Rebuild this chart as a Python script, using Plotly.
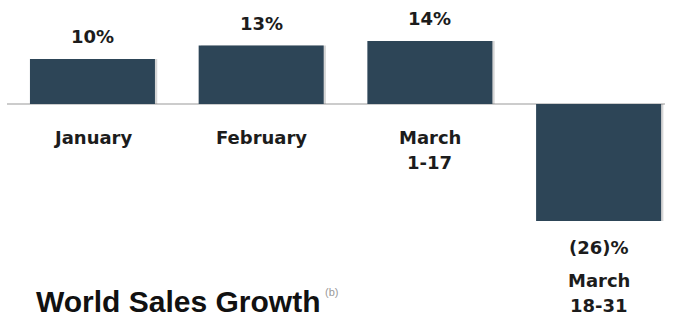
import plotly.graph_objects as go

# Monthly sales growth, percent
periods = ["January", "February", "March<br>1-17", "March<br>18-31"]
growth = [10, 13, 14, -26]
value_labels = ["10%", "13%", "14%", "(26)%"]
title_text = "World Sales Growth"
footnote_mark = "(b)"

BAR_COLOR = "#2d4557"
TEXT_COLOR = "#1c1c1c"
LABEL_FONT = dict(family="DejaVu Sans, sans-serif", size=18, color=TEXT_COLOR, weight=700)
LINE_STEP = 25  # px between the lines of a category label

x = list(range(len(periods)))

fig = go.Figure()

# soft drop shadow behind each bar
fig.add_trace(go.Bar(
    x=x, y=growth, width=0.741, offset=-0.357,
    marker=dict(color="rgba(120,120,120,0.30)", line=dict(width=0)),
    hoverinfo="skip", showlegend=False,
))
fig.add_trace(go.Bar(
    x=x, y=growth, width=0.741,
    marker=dict(color=BAR_COLOR, line=dict(width=0)),
    showlegend=False,
))

annotations = []
for i, (v, lab, cat) in enumerate(zip(growth, value_labels, periods)):
    lines = cat.split("<br>")
    if v >= 0:
        annotations.append(dict(x=i, y=v, text=lab, showarrow=False,
                                yanchor="bottom", yshift=10, font=LABEL_FONT))
        base_y, first_shift = 0, -21
    else:
        annotations.append(dict(x=i, y=v, text=lab, showarrow=False,
                                yanchor="top", yshift=-14, font=LABEL_FONT))
        base_y, first_shift = v, -47
    for k, line in enumerate(lines):
        annotations.append(dict(x=i, y=base_y, text=line, showarrow=False,
                                yanchor="top", yshift=first_shift - k * LINE_STEP,
                                font=LABEL_FONT))

annotations.append(dict(
    xref="paper", yref="paper", x=323 / 673, y=0, text=title_text,
    showarrow=False, xanchor="right", yanchor="bottom",
    font=dict(family="Liberation Sans, Arial, sans-serif", size=30, color="#111111", weight=700),
))
annotations.append(dict(
    xref="paper", yref="paper", x=323 / 673, y=1 - 292 / 320, text=footnote_mark,
    showarrow=False, xanchor="left", yanchor="middle",
    font=dict(family="Liberation Sans, Arial, sans-serif", size=11, color="#9a9a9a"),
))

# zero baseline
fig.add_shape(type="line", xref="paper", yref="y", x0=7 / 673, x1=665 / 673, y0=0, y1=0,
              line=dict(color="#9a9a9a", width=1.2), layer="below")

fig.update_layout(
    width=673, height=320,
    margin=dict(l=0, r=0, t=0, b=0),
    paper_bgcolor="white", plot_bgcolor="white",
    barmode="overlay",
    xaxis=dict(range=[-0.548, 3.441], visible=False),
    yaxis=dict(range=[-48.0, 23.11], visible=False),
    annotations=annotations,
)

fig.write_html("out.html")
